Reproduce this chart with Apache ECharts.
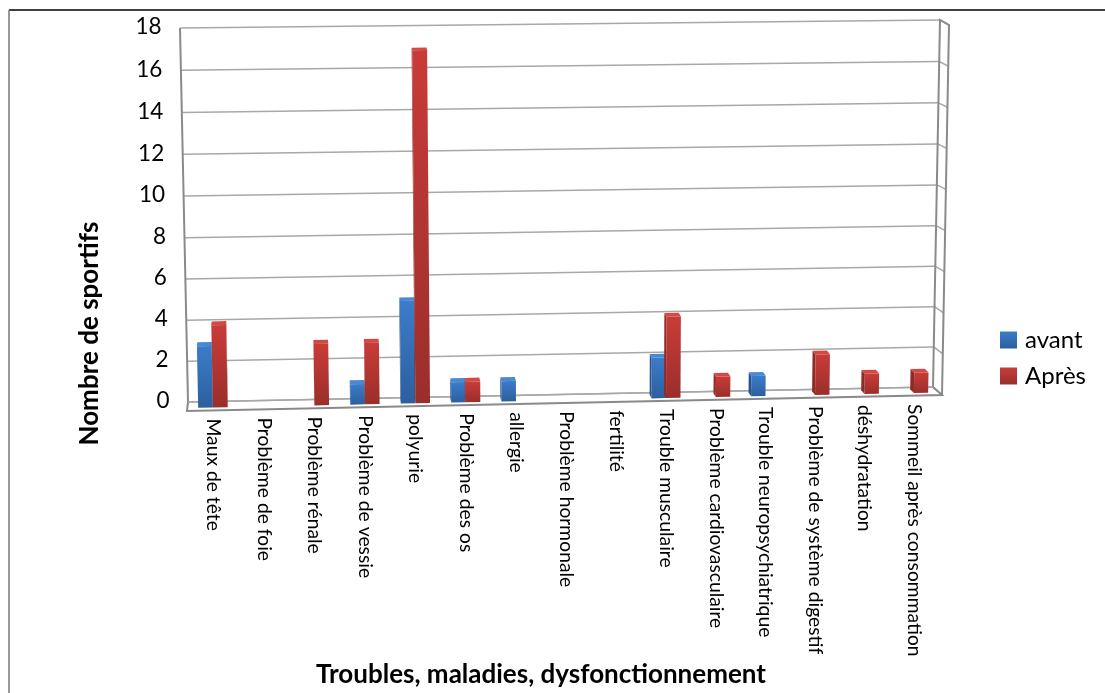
<!DOCTYPE html>
<html>
<head>
<meta charset="utf-8">
<style>html,body{margin:0;padding:0;background:#fff}</style>
<script src="https://cdn.jsdelivr.net/npm/echarts@6/dist/echarts.min.js"></script>
</head>
<body>
<div id="chart" style="width:1105px;height:693px"></div>
<script>
const categories = ['Maux de tête', 'Problème de foie', 'Problème rénale', 'Problème de vessie', 'polyurie', 'Problème des os', 'allergie', 'Problème hormonale', 'fertilité', 'Trouble musculaire', 'Problème cardiovasculaire', 'Trouble neuropsychiatrique', 'Problème de système digestif', 'déshydratation', 'Sommeil après consommation'];
const avant = [3, 0, 0, 1, 5, 1, 1, 0, 0, 2, 0, 1, 0, 0, 0];
const apres = [4, 0, 3, 3, 17, 1, 0, 0, 0, 4, 1, 0, 2, 1, 1];
const yTicks = [0, 2, 4, 6, 8, 10, 12, 14, 16, 18];

// the original is a 3D chart: corners of the planes, [TL, TR, BR, BL]
const wallQuad = [[180, 28], [940, 20], [933, 387], [188, 402]];
const barQuad = [[179.5, 32], [945.5, 22.5], [938.5, 392.5], [187.5, 408]];
const outerEdge = [[949, 25], [942, 395]];
const barBackQuad = barQuad.map((p, i) => [p[0] + 0.7 * (wallQuad[i][0] - p[0]), p[1] + 0.7 * (wallQuad[i][1] - p[1])]);

const blueGrad = new echarts.graphic.LinearGradient(0, 0, 0, 1, [{ offset: 0, color: '#3c7cca' }, { offset: 1, color: '#2c5f9e' }]);
const redGrad = new echarts.graphic.LinearGradient(0, 0, 0, 1, [{ offset: 0, color: '#c93c38' }, { offset: 1, color: '#9a2e2b' }]);

// unit square to quad
function project(q, u, v) {
  const [x0, y0] = q[0], [x1, y1] = q[1], [x2, y2] = q[2], [x3, y3] = q[3];
  const dx1 = x1 - x2, dx2 = x3 - x2, sx = x0 - x1 + x2 - x3;
  const dy1 = y1 - y2, dy2 = y3 - y2, sy = y0 - y1 + y2 - y3;
  const den = dx1 * dy2 - dx2 * dy1;
  const g = (sx * dy2 - dx2 * sy) / den, h = (dx1 * sy - sx * dy1) / den;
  const w = g * u + h * v + 1;
  return [
    ((x1 - x0 + g * x1) * u + (x3 - x0 + h * x3) * v + x0) / w,
    ((y1 - y0 + g * y1) * u + (y3 - y0 + h * y3) * v + y0) / w
  ];
}

function toUnit(params, pt) {
  const s = params.coordSys;
  return [(pt[0] - s.x) / s.width, (pt[1] - s.y) / s.height];
}

function renderWall(params, api) {
  const tick = api.value(1);
  const [, v] = toUnit(params, api.coord([0, tick]));
  const a = project(wallQuad, 0, v), b = project(wallQuad, 1, v);
  const c = [outerEdge[0][0] + (outerEdge[1][0] - outerEdge[0][0]) * v, outerEdge[0][1] + (outerEdge[1][1] - outerEdge[0][1]) * v];
  const lineStyle = { stroke: '#a8a8a8', lineWidth: 1.5, fill: null };
  return {
    type: 'group',
    children: [
      { type: 'line', shape: { x1: a[0], y1: a[1], x2: b[0], y2: b[1] }, style: lineStyle },
      { type: 'line', shape: { x1: b[0], y1: b[1], x2: c[0], y2: c[1] }, style: lineStyle },
      { type: 'text', style: { text: String(tick), x: a[0] - 18.5, y: a[1] - 1, align: 'right', verticalAlign: 'middle', font: '22.5px Lato', fill: '#000' } }
    ]
  };
}

function renderFrame() {
  const edge = { stroke: '#8a8a8a', lineWidth: 2, fill: null };
  const w = wallQuad;
  const fl = [187, 411], fr = outerEdge[1];
  return {
    type: 'group',
    children: [
      { type: 'polyline', shape: { points: [w[0], w[3], fl, fr, w[2], w[1], outerEdge[0], fr] }, style: edge },
      { type: 'line', shape: { x1: w[3][0], y1: w[3][1], x2: w[2][0], y2: w[2][1] }, style: { stroke: '#a8a8a8', lineWidth: 1.5 } }
    ]
  };
}

function poly(points, fill) {
  return { type: 'polygon', shape: { points }, style: { fill } };
}

function barRenderer(side, grad, sideColor, topColor) {
  return function (params, api) {
    const val = api.value(1);
    if (!val) return null;
    const top = api.coord([api.value(0), val]), base = api.coord([api.value(0), 0]);
    const w = api.size([1, 0])[0] * 0.29;
    const x1 = side < 0 ? top[0] - w : top[0], x2 = x1 + w;
    const [u1, v1] = toUnit(params, [x1, top[1]]);
    const [u2, v0] = toUnit(params, [x2, base[1]]);
    const fTL = project(barQuad, u1, v1), fTR = project(barQuad, u2, v1), fBR = project(barQuad, u2, v0), fBL = project(barQuad, u1, v0);
    const bTL = project(barBackQuad, u1, v1), bTR = project(barBackQuad, u2, v1), bBR = project(barBackQuad, u2, v0), bBL = project(barBackQuad, u1, v0);
    const children = [];
    if (bTL[0] < fTL[0]) children.push(poly([fTL, bTL, bBL, fBL], sideColor));
    if (bTR[0] > fTR[0]) children.push(poly([fTR, bTR, bBR, fBR], sideColor));
    children.push(poly([fTL, fTR, bTR, bTL], topColor));
    children.push(poly([fTL, fTR, fBR, fBL], grad));
    return { type: 'group', children };
  };
}

function renderCategory(params, api) {
  const pt = api.coord([api.value(0), 0]);
  const [u, v] = toUnit(params, pt);
  const p = project(barQuad, u, v);
  return {
    type: 'text',
    x: p[0],
    y: p[1] + 11,
    rotation: -Math.PI / 2,
    style: { text: categories[params.dataIndex], x: 0, y: 0, align: 'left', verticalAlign: 'middle', font: '19.3px Lato', fill: '#000' }
  };
}

const chart = echarts.init(document.getElementById('chart'), null, { renderer: 'canvas' });
chart.setOption({
  animation: false,
  backgroundColor: '#fff',
  // grid only carries the scales, the planes above place it on the page
  grid: { left: 144, top: 28, width: 794, height: 616 },
  legend: {
    orient: 'vertical',
    left: 995,
    top: 323,
    itemWidth: 17,
    itemHeight: 17,
    itemGap: 12,
    textStyle: { fontFamily: 'Lato', fontSize: 24, color: '#000', padding: [0, 0, 0, 3] },
    data: [
      { name: 'avant', icon: 'rect', itemStyle: { color: blueGrad } },
      { name: 'Après', icon: 'rect', itemStyle: { color: redGrad } }
    ]
  },
  xAxis: {
    type: 'category',
    data: categories,
    name: 'Troubles, maladies, dysfonctionnement',
    nameLocation: 'middle',
    nameGap: 23,
    nameTextStyle: { fontFamily: 'Lato', fontWeight: 'bold', fontSize: 26, color: '#000' },
    axisLine: { show: false },
    axisTick: { show: false },
    axisLabel: { show: false }
  },
  yAxis: {
    type: 'value',
    min: 0,
    max: 18,
    interval: 2,
    name: 'Nombre de sportifs',
    nameLocation: 'middle',
    nameGap: 41,
    nameTextStyle: { fontFamily: 'Lato', fontWeight: 'bold', fontSize: 26, color: '#000' },
    axisLine: { show: false },
    axisTick: { show: false },
    axisLabel: { show: false },
    splitLine: { show: false }
  },
  graphic: [
    { type: 'line', shape: { x1: 9, y1: 10, x2: 1105, y2: 10 }, style: { stroke: '#000', lineWidth: 1.5 } },
    { type: 'line', shape: { x1: 9, y1: 10, x2: 9, y2: 693 }, style: { stroke: '#777', lineWidth: 1.5 } }
  ],
  series: [
    { type: 'custom', name: 'grid', data: yTicks.map((t) => [0, t]), renderItem: renderWall, z: 1, silent: true },
    { type: 'custom', name: 'frame', data: [[0, 0]], renderItem: renderFrame, z: 2, silent: true },
    { type: 'custom', name: 'labels', data: categories.map((c, i) => [i, 0]), renderItem: renderCategory, z: 3, silent: true },
    { type: 'custom', name: 'avant', data: avant.map((v, i) => [i, v]), renderItem: barRenderer(-1, blueGrad, '#27548d', '#4a88d2'), itemStyle: { color: '#3c7cca' }, z: 4 },
    { type: 'custom', name: 'Après', data: apres.map((v, i) => [i, v]), renderItem: barRenderer(1, redGrad, '#8f2a27', '#d24a45'), itemStyle: { color: '#c93c38' }, z: 5 }
  ]
});
</script>
</body>
</html>
